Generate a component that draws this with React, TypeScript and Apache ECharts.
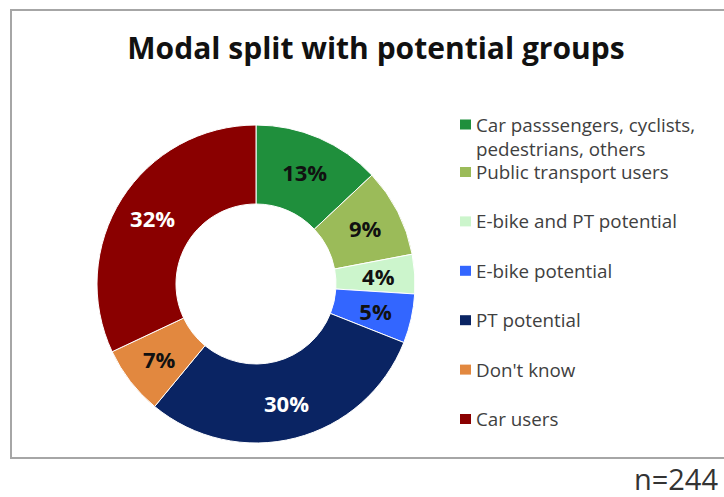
import React, { useEffect, useRef } from "react";
import * as echarts from "echarts";

const categories = [
  "Car passsengers, cyclists, pedestrians, others",
  "Public transport users",
  "E-bike and PT potential",
  "E-bike potential",
  "PT potential",
  "Don't know",
  "Car users",
];
const shares = [13, 9, 4, 5, 30, 7, 32];
const colors = ["#1f8f3c", "#9bbb59", "#ccf5cc", "#3366ff", "#0a2463", "#e2883f", "#8a0000"];
const labelColors = ["#111111", "#111111", "#111111", "#111111", "#ffffff", "#111111", "#ffffff"];
const titleText = "Modal split with potential groups";
const sampleNote = "n=244";

const FONT = "Open Sans";

export default function App() {
  const ref = useRef<HTMLDivElement>(null);
  useEffect(() => {
    if (!ref.current) return;
    const chart = echarts.init(ref.current, undefined, { renderer: "svg" });
    const legendText = { fontFamily: FONT, fontSize: 18.8, color: "#404040" };
    chart.setOption({
      animation: false,
      backgroundColor: "#ffffff",
      title: {
        text: titleText,
        left: 376,
        top: 27,
        padding: 0,
        textAlign: "center",
        textStyle: { fontFamily: FONT, fontWeight: "bold", fontSize: 30, color: "#111111", lineHeight: 40 },
      },
      legend: [
        {
          orient: "vertical",
          left: 460,
          top: 112.5,
          padding: 0,
          selectedMode: false,
          itemWidth: 11,
          itemHeight: 34,
          itemStyle: { borderWidth: 0 },
          data: [{ name: categories[0], icon: "path://M0,0L11,0L11,10L0,10Z M0,34L0.01,34" }],
          formatter: (n: string) => n.replace(", pedestrians", ",\npedestrians"),
          textStyle: { ...legendText, lineHeight: 24 },
        },
        {
          orient: "vertical",
          left: 460,
          top: 162,
          padding: 0,
          selectedMode: false,
          itemWidth: 11,
          itemHeight: 10,
          itemGap: 29.4,
          icon: "rect",
          itemStyle: { borderWidth: 0 },
          data: categories.slice(1),
          textStyle: { ...legendText, lineHeight: 20 },
        },
      ],
      series: [
        {
          type: "pie",
          center: [256, 284],
          radius: [80, 159],
          startAngle: 90,
          clockwise: true,
          avoidLabelOverlap: false,
          emphasis: { disabled: true },
          itemStyle: { borderColor: "#ffffff", borderWidth: 1 },
          label: {
            show: true,
            position: "inside",
            formatter: "{c}%",
            fontFamily: FONT,
            fontWeight: "bold",
            fontSize: 22,
          },
          labelLine: { show: false },
          data: categories.map((name, i) => ({
            name,
            value: shares[i],
            itemStyle: { color: colors[i] },
            label: { color: labelColors[i] },
          })),
        },
      ],
      graphic: [
        {
          type: "rect",
          silent: true,
          shape: { x: 11, y: 10, width: 760, height: 448 },
          style: { fill: "none", stroke: "#a6a6a6", lineWidth: 2 },
        },
        {
          type: "text",
          x: 718,
          y: 478,
          style: {
            text: sampleNote,
            fontFamily: FONT,
            fontSize: 29,
            lineHeight: 24,
            fill: "#333333",
            align: "right",
            verticalAlign: "middle",
          },
        },
      ],
    });
    return () => chart.dispose();
  }, []);
  return <div ref={ref} style={{ position: "fixed", left: 0, top: 0, width: 724, height: 497 }} />;
}
